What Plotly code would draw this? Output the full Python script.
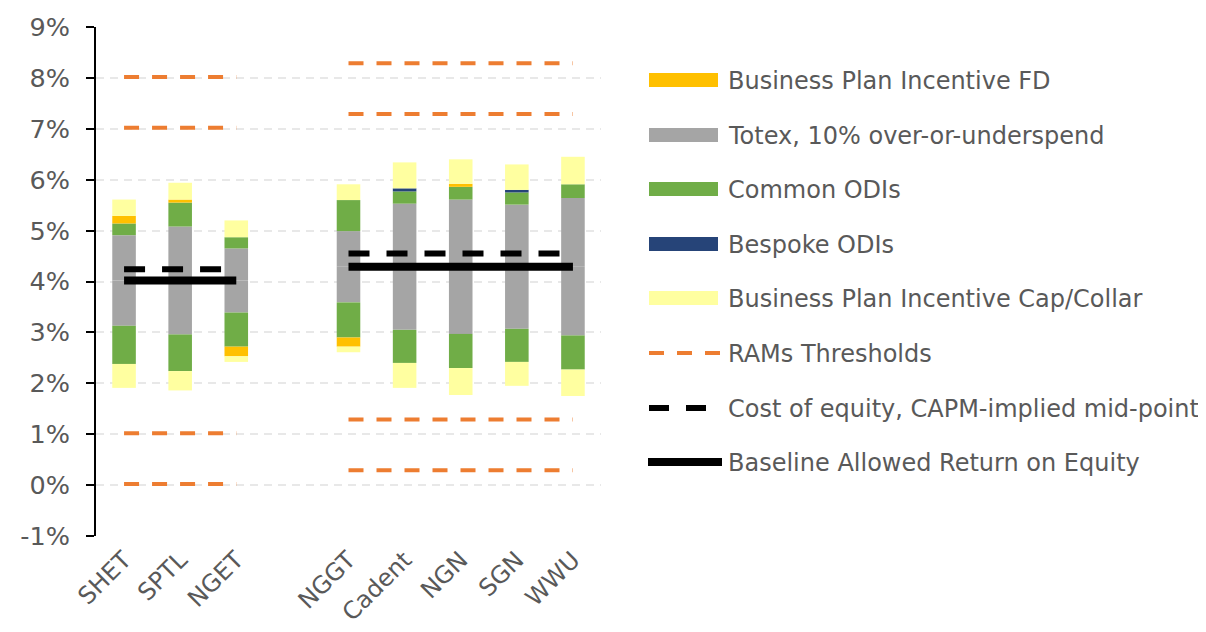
import plotly.graph_objects as go

# ---------------- data (percent) ----------------
categories = ["SHET", "SPTL", "NGET", "", "NGGT", "Cadent", "NGN", "SGN", "WWU"]
baseline = [4.02, 4.02, 4.02, None, 4.29, 4.29, 4.29, 4.29, 4.29]
cost_of_equity = [4.24, 4.24, 4.24, None, 4.55, 4.55, 4.55, 4.55, 4.55]
rams_offsets = [-4, -3, 3, 4]

totex = [0.89, 1.06, 0.63, None, 0.70, 1.24, 1.32, 1.22, 1.35]
common_odi_up = [0.23, 0.47, 0.22, None, 0.61, 0.24, 0.25, 0.24, 0.27]
common_odi_down = [0.75, 0.72, 0.67, None, 0.69, 0.65, 0.67, 0.65, 0.67]
bespoke_odi_up = [0.0, 0.0, 0.0, None, 0.0, 0.06, 0.0, 0.05, 0.0]
bespoke_odi_down = [0.0, 0.0, 0.0, None, 0.0, 0.0, 0.0, 0.0, 0.0]
bpi_fd = [0.15, 0.06, -0.19, None, -0.18, 0.0, 0.06, 0.0, 0.0]
bpi_cap = [0.32, 0.33, 0.33, None, 0.31, 0.51, 0.48, 0.50, 0.54]
bpi_collar = [0.47, 0.38, 0.11, None, 0.11, 0.49, 0.53, 0.47, 0.52]

y_ticks = [-1, 0, 1, 2, 3, 4, 5, 6, 7, 8, 9]
y_tick_labels = ["-1%", "0%", "1%", "2%", "3%", "4%", "5%", "6%", "7%", "8%", "9%"]

legend_labels = [
    "Business Plan Incentive FD",
    "Totex, 10% over-or-underspend",
    "Common ODIs",
    "Bespoke ODIs",
    "Business Plan Incentive Cap/Collar",
    "RAMs Thresholds",
    "Cost of equity, CAPM-implied mid-point",
    "Baseline Allowed Return on Equity",
]

# ---------------- styles ----------------
C_FD = "#FFC000"
C_TOTEX = "#A5A5A5"
C_ODI = "#70AD47"
C_BESPOKE = "#264478"
C_CAP = "#FFFFA0"
C_RAMS = "#ED7D31"
TXT = "#595959"
FONT = "DejaVu Sans"

PAGE_OFF = 8  # default body margin of the html page
W, H = 1206 - PAGE_OFF, 632 - PAGE_OFF
ML, MT = 96 - PAGE_OFF, 27 - PAGE_OFF
PW, PH = 505, 509
MR, MB = W - ML - PW, H - MT - PH

valid = [i for i, c in enumerate(categories) if c]

fig = go.Figure()

# stacked segments around baseline
up_cum = {i: baseline[i] for i in valid}
dn_cum = {i: baseline[i] for i in valid}


def add_up(vals, color):
    xs, ys, bs = [], [], []
    for i in valid:
        v = vals[i]
        if v and v > 0:
            xs.append(i); ys.append(v); bs.append(up_cum[i])
            up_cum[i] += v
    if xs:
        fig.add_trace(go.Bar(x=xs, y=ys, base=bs, marker_color=color,
                             marker_line_width=0, width=0.42, showlegend=False))


def add_down(vals, color):
    xs, ys, bs = [], [], []
    for i in valid:
        v = vals[i]
        if v and v > 0:
            dn_cum[i] -= v
            xs.append(i); ys.append(v); bs.append(dn_cum[i])
    if xs:
        fig.add_trace(go.Bar(x=xs, y=ys, base=bs, marker_color=color,
                             marker_line_width=0, width=0.42, showlegend=False))


add_up(totex, C_TOTEX)
add_down(totex, C_TOTEX)
add_up(common_odi_up, C_ODI)
add_down(common_odi_down, C_ODI)
add_up(bespoke_odi_up, C_BESPOKE)
add_down(bespoke_odi_down, C_BESPOKE)
add_up([v if v is not None and v > 0 else 0 for v in bpi_fd], C_FD)
add_down([-v if v is not None and v < 0 else 0 for v in bpi_fd], C_FD)
add_up(bpi_cap, C_CAP)
add_down(bpi_collar, C_CAP)

# groups of consecutive companies
groups, cur = [], []
for i, c in enumerate(categories):
    if c:
        cur.append(i)
    elif cur:
        groups.append(cur); cur = []
if cur:
    groups.append(cur)

for g in groups:
    for off in rams_offsets:
        fig.add_trace(go.Scatter(x=g, y=[baseline[i] + off for i in g], mode="lines",
                                 line=dict(color=C_RAMS, width=4, dash="15px,13px"),
                                 showlegend=False, hoverinfo="skip"))
    fig.add_trace(go.Scatter(x=g, y=[cost_of_equity[i] for i in g], mode="lines",
                             line=dict(color="black", width=6, dash="21px,17px"),
                             showlegend=False, hoverinfo="skip"))
    fig.add_trace(go.Scatter(x=g, y=[baseline[i] for i in g], mode="lines",
                             line=dict(color="black", width=8),
                             showlegend=False, hoverinfo="skip"))

fig.update_layout(
    width=W, height=H,
    margin=dict(l=ML, r=MR, t=MT, b=MB, autoexpand=False),
    paper_bgcolor="white", plot_bgcolor="white",
    barmode="overlay",
    font=dict(family=FONT, size=24, color=TXT),
    showlegend=False,
)
fig.update_xaxes(
    range=[-0.5, len(categories) - 0.5], automargin=False,
    tickmode="array", tickvals=valid, ticktext=[categories[i] for i in valid],
    tickangle=-45, showline=False, showgrid=False, zeroline=False, ticks="",
    ticklabelstandoff=4,
    tickfont=dict(family=FONT, size=24, color=TXT),
)
fig.update_yaxes(
    range=[-1, 9], automargin=False,
    tickmode="array", tickvals=y_ticks, ticktext=y_tick_labels,
    showline=True, linecolor="black", linewidth=2,
    ticks="outside", ticklen=8, tickwidth=2, tickcolor="black",
    showgrid=True, gridcolor="#E8E8E8", gridwidth=1.5, griddash="8px,6px",
    zeroline=False, ticklabelstandoff=11,
    tickfont=dict(family=FONT, size=25.5, color=TXT),
)


# ---------------- manual legend (positions in screen px) ----------------
def px_x(px):
    return (px - PAGE_OFF - ML) / PW


def px_y(py):
    return (MT + PH - (py - PAGE_OFF)) / PH


rows = [80, 135, 189, 244, 298, 353, 408, 462]
rect_colors = [C_FD, C_TOTEX, C_ODI, C_BESPOKE, C_CAP]
for k, label in enumerate(legend_labels):
    yc = rows[k]
    if k < 5:
        fig.add_shape(type="rect", xref="paper", yref="paper",
                      x0=px_x(649), x1=px_x(718), y0=px_y(yc + 7), y1=px_y(yc - 7),
                      fillcolor=rect_colors[k], line_width=0)
    elif k == 5:
        fig.add_shape(type="line", xref="paper", yref="paper",
                      x0=px_x(649), x1=px_x(722), y0=px_y(yc), y1=px_y(yc),
                      line=dict(color=C_RAMS, width=4, dash="15px,13px"))
    elif k == 6:
        fig.add_shape(type="line", xref="paper", yref="paper",
                      x0=px_x(649), x1=px_x(708), y0=px_y(yc), y1=px_y(yc),
                      line=dict(color="black", width=6, dash="20px,17px"))
    else:
        fig.add_shape(type="line", xref="paper", yref="paper",
                      x0=px_x(648), x1=px_x(722), y0=px_y(yc), y1=px_y(yc),
                      line=dict(color="black", width=8))
    fig.add_annotation(xref="paper", yref="paper", x=px_x(726), y=px_y(yc + 1),
                       text=label, showarrow=False, xanchor="left", yanchor="middle",
                       font=dict(family=FONT, size=24, color=TXT))

fig.write_html("out.html")
